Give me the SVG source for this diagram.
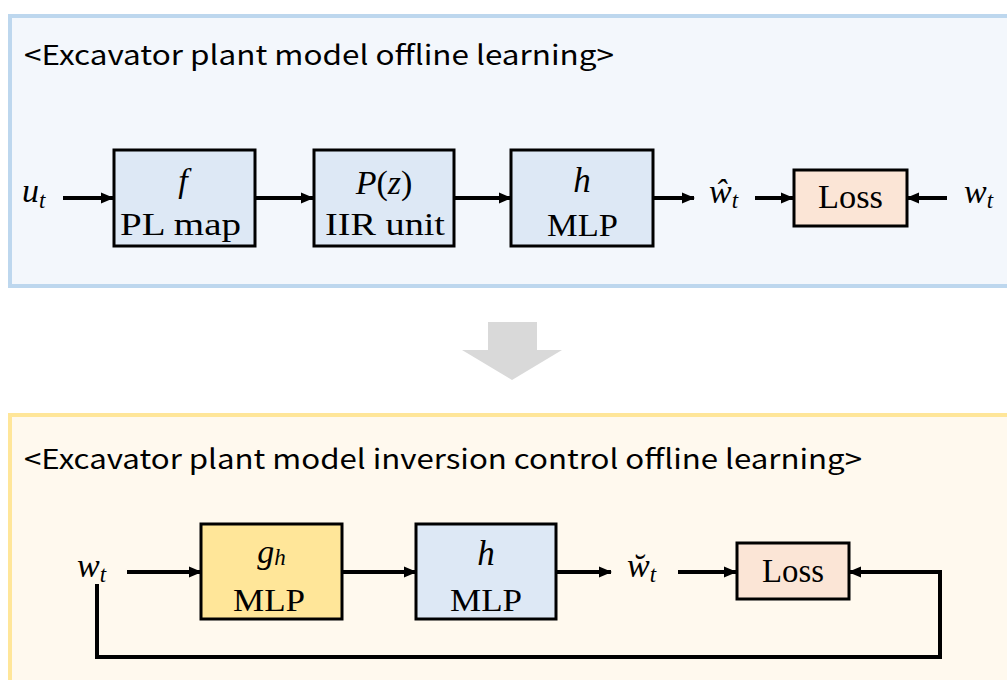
<svg xmlns="http://www.w3.org/2000/svg" width="1007" height="680" viewBox="0 0 1007 680">
<defs>
<style>
.title{font-family:"Noto Sans CJK KR","Noto Sans",sans-serif;font-size:27px;fill:#000}
.m{font-family:"Liberation Serif",serif;font-style:italic;fill:#000}
.r{font-family:"Liberation Serif",serif;fill:#000}
.box{stroke:#000;stroke-width:3}
.blue{fill:#dde8f5}
.peach{fill:#fbe5d6}
.yel{fill:#ffe699}
.c{stroke:#000;stroke-width:4;fill:none}
</style>
<marker id="ah" markerUnits="userSpaceOnUse" markerWidth="14" markerHeight="14" viewBox="0 0 14 14" refX="12" refY="7" orient="auto">
<path d="M0,1.5 L13,7 L0,12.5 z" fill="#000"/>
</marker>
</defs>
<rect width="1007" height="680" fill="#fff"/>
<g id="panel-top">
<rect x="10" y="16" width="1010" height="270" fill="#f3f7fc" stroke="#bdd7ee" stroke-width="4"/>
<text class="title" x="24" y="65" textLength="590" lengthAdjust="spacingAndGlyphs">&lt;Excavator plant model offline learning&gt;</text>
</g>
<g id="big-arrow">
<path d="M488,322 H537 V350 H562 L512,380 L462,350 H488 Z" fill="#d9d9d9"/>
</g>
<g id="panel-bottom">
<rect x="10" y="415" width="1010" height="280" fill="#fff9ee" stroke="#ffe699" stroke-width="4"/>
<text class="title" x="24" y="469" textLength="838" lengthAdjust="spacingAndGlyphs">&lt;Excavator plant model inversion control offline learning&gt;</text>
</g>
<g id="connectors">
<line class="c" x1="63" y1="198" x2="113" y2="198" marker-end="url(#ah)"/>
<line class="c" x1="255" y1="198" x2="313" y2="198" marker-end="url(#ah)"/>
<line class="c" x1="454" y1="198" x2="511" y2="198" marker-end="url(#ah)"/>
<line class="c" x1="653" y1="198" x2="694" y2="198" marker-end="url(#ah)"/>
<line class="c" x1="755" y1="198" x2="793" y2="198" marker-end="url(#ah)"/>
<line class="c" x1="947" y1="198" x2="907" y2="198" marker-end="url(#ah)"/>
<line class="c" x1="127" y1="572" x2="201" y2="572" marker-end="url(#ah)"/>
<line class="c" x1="342" y1="572" x2="416" y2="572" marker-end="url(#ah)"/>
<line class="c" x1="556" y1="572" x2="611" y2="572" marker-end="url(#ah)"/>
<line class="c" x1="678" y1="572" x2="736" y2="572" marker-end="url(#ah)"/>
<path class="c" d="M97,584 V657 H940 V572 H849" marker-end="url(#ah)"/>
</g>
<g id="label-ut"><text class="m" x="22" y="202" font-size="34">u<tspan font-size="23" dy="6">t</tspan></text></g>
<g id="node-f">
<rect class="box blue" x="114" y="150" width="141" height="96"/>
<text class="m" x="183" y="192" font-size="34" text-anchor="middle">f</text>
<text class="r" x="120" y="235" font-size="31" textLength="121" lengthAdjust="spacingAndGlyphs">PL map</text>
</g>
<g id="node-p">
<rect class="box blue" x="314" y="150" width="140" height="96"/>
<text x="384" y="194" font-size="34" text-anchor="middle"><tspan class="m">P</tspan><tspan class="r">(</tspan><tspan class="m">z</tspan><tspan class="r">)</tspan></text>
<text class="r" x="325" y="235" font-size="31" textLength="120" lengthAdjust="spacingAndGlyphs">IIR unit</text>
</g>
<g id="node-h1">
<rect class="box blue" x="511" y="150" width="142" height="96"/>
<text class="m" x="582" y="192" font-size="35" text-anchor="middle">h</text>
<text class="r" x="547" y="236" font-size="31" textLength="71" lengthAdjust="spacingAndGlyphs">MLP</text>
</g>
<g id="label-what"><text class="m" x="709" y="203" font-size="34">ŵ<tspan font-size="23" dy="5">t</tspan></text></g>
<g id="node-loss1">
<rect class="box peach" x="794" y="170" width="113" height="56"/>
<text class="r" x="818" y="208" font-size="34" textLength="65" lengthAdjust="spacingAndGlyphs">Loss</text>
</g>
<g id="label-wt1"><text class="m" x="964" y="203" font-size="34">w<tspan font-size="23" dy="5">t</tspan></text></g>
<g id="label-wt2"><text class="m" x="77" y="577" font-size="34">w<tspan font-size="23" dy="5">t</tspan></text></g>
<g id="node-g">
<rect class="box yel" x="201" y="524" width="141" height="95"/>
<text class="m" x="271.5" y="563" font-size="34" text-anchor="middle">g<tspan font-size="23" dy="2">h</tspan></text>
<text class="r" x="233" y="611" font-size="32" textLength="72" lengthAdjust="spacingAndGlyphs">MLP</text>
</g>
<g id="node-h2">
<rect class="box blue" x="416" y="524" width="140" height="95"/>
<text class="m" x="486" y="565" font-size="35" text-anchor="middle">h</text>
<text class="r" x="450" y="611" font-size="32" textLength="72" lengthAdjust="spacingAndGlyphs">MLP</text>
</g>
<g id="label-wbreve"><text class="m" x="627" y="577" font-size="34">w̆<tspan font-size="23" dy="5">t</tspan></text></g>
<g id="node-loss2">
<rect class="box peach" x="737" y="543" width="112" height="56"/>
<text class="r" x="762" y="582" font-size="34" textLength="62" lengthAdjust="spacingAndGlyphs">Loss</text>
</g>
</svg>
